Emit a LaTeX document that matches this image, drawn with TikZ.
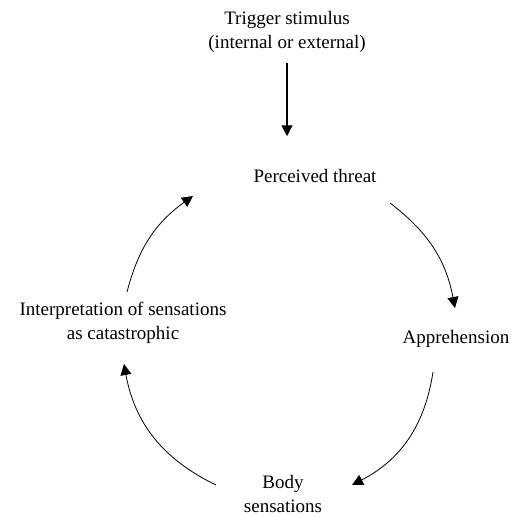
\documentclass[tikz,border=0pt]{standalone}
\usepackage{fontspec}
\setmainfont{Liberation Serif}
\usetikzlibrary{arrows.meta}

\begin{document}
\begin{tikzpicture}[x = 0.5pt, y = 0.5pt, font = \fontsize{9.5}{12}\selectfont, -{Triangle[length = 5.5pt, width = 5.5pt]}, thin, draw = black]
  \useasboundingbox (0, 0) rectangle (514, 516);

  \node (trigger) [align = center] at (287, 484) {Trigger stimulus\\(internal or external)};
  \node (threat) at (315, 340) {Perceived threat};
  \node (apprehension) at (456, 177) {Apprehension};
  \node (body) [align = center] at (283, 22) {Body\\sensations};
  \node (interpretation) [align = center] at (123, 193) {Interpretation of sensations\\as catastrophic};

  \coordinate (threat out) at (390, 313);
  \coordinate (apprehension in) at (455, 208);
  \coordinate (apprehension out) at (433, 144);
  \coordinate (body in) at (352, 31);
  \coordinate (body out) at (216, 31);
  \coordinate (interpretation in) at (124, 152);
  \coordinate (interpretation out) at (127, 224);
  \coordinate (threat in) at (193, 320);

  \draw [semithick, shorten < = 1.5pt, shorten > = 13pt] (trigger.south) -- (trigger.south |- threat.north);
  \draw (threat out) to [bend left = 21] (apprehension in);
  \draw (apprehension out) to [bend left = 27] (body in);
  \draw (body out) to [bend left = 27] (interpretation in);
  \draw (interpretation out) to [bend left = 20] (threat in);
\end{tikzpicture}
\end{document}
